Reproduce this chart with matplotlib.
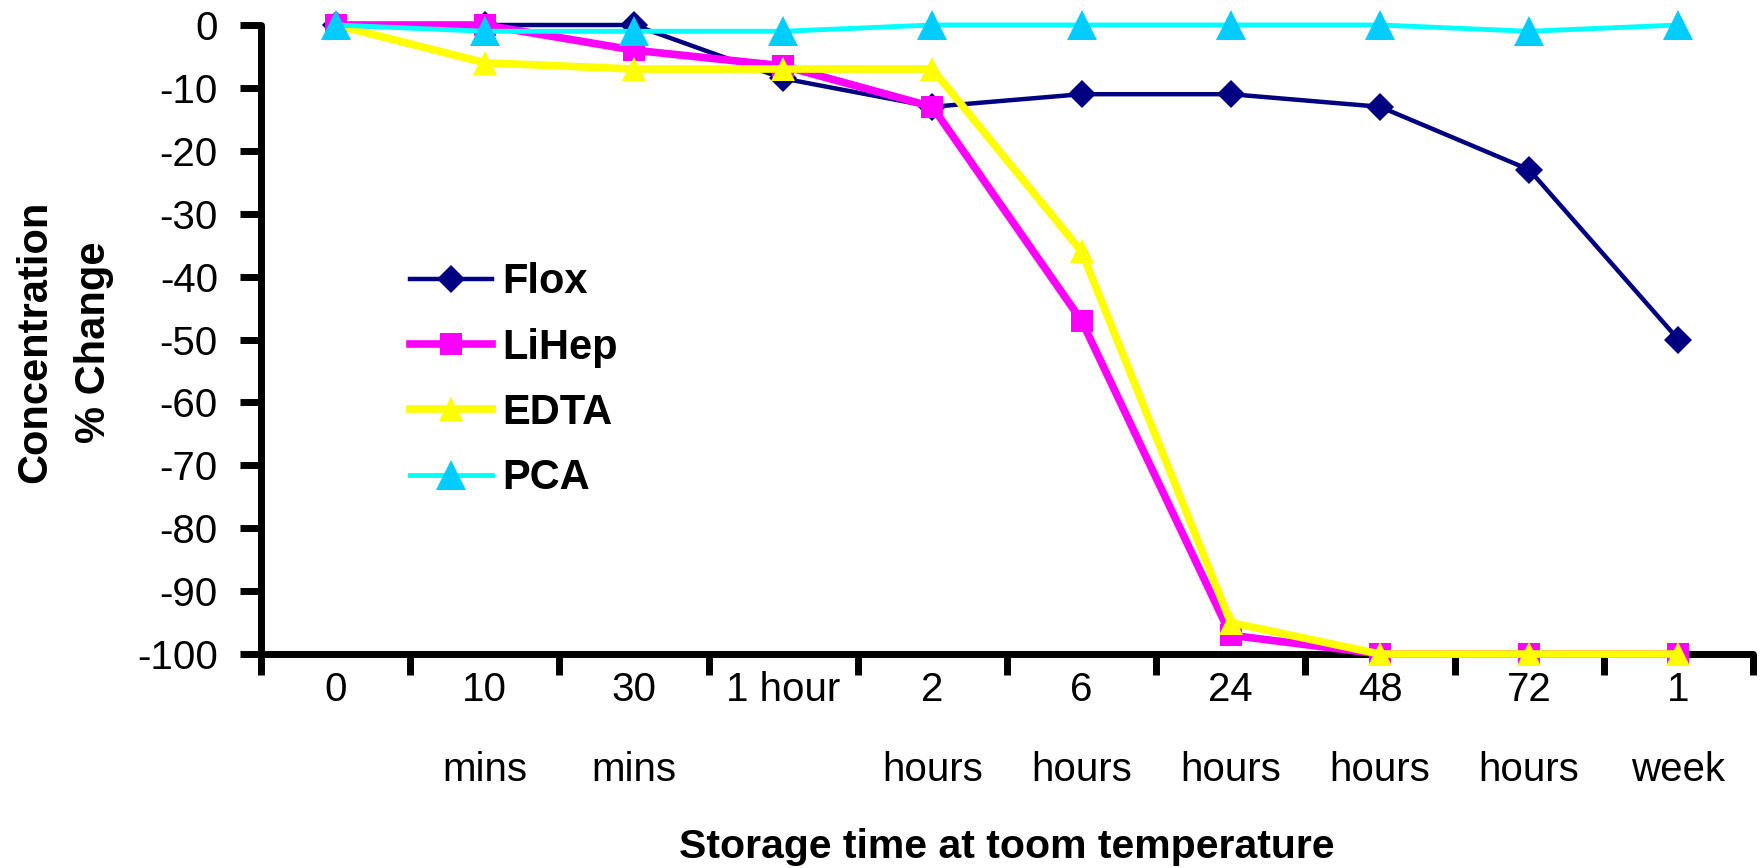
import matplotlib
matplotlib.use("Agg")
import matplotlib.pyplot as plt

plt.rcParams['font.family'] = ['Liberation Sans', 'DejaVu Sans']
plt.rcParams['axes.unicode_minus'] = False

times = ["0", "10\nmins", "30\nmins", "1 hour", "2\nhours", "6\nhours",
         "24\nhours", "48\nhours", "72\nhours", "1\nweek"]
flox = [0, 0, 0, -8.5, -13, -11, -11, -13, -23, -50]
lihep = [0, 0, -4, -6.5, -13, -47, -97, -100, -100, -100]
edta = [0, -6, -7, -7, -7, -36, -95, -100, -100, -100]
pca = [0, -1, -1, -1, 0, 0, 0, 0, -1, 0]

x = list(range(len(times)))

fig = plt.figure(figsize=(17.6, 8.68), dpi=100)
ax = fig.add_axes([0.1483, 0.2465, 0.8477, 0.7247])

ax.plot(x, flox, color="#000080", lw=3.2, marker="D", ms=14.5,
        mfc="#000080", mec="#000080", mew=0, label="Flox", clip_on=False, zorder=3)
ax.plot(x, lihep, color="#FF00FF", lw=5.5, marker="s", ms=15.5,
        mfc="#FF00FF", mec="#FF00FF", mew=0, label="LiHep", clip_on=False, zorder=3)
ax.plot(x, edta, color="#FFFF00", lw=5.5, marker="^", ms=17,
        mfc="#FFFF00", mec="#FFFF00", mew=0, label="EDTA", clip_on=False, zorder=3)
ax.plot(x, pca, color="#00FFFF", lw=3.5, marker="^", ms=21.5,
        mfc="#00CCFF", mec="#00CCFF", mew=0, label="PCA", clip_on=False, zorder=3)

ax.set_xlim(-0.5, len(times) - 0.5)
ax.set_ylim(-100, 0)

# category labels sit between the boundary ticks
ax.set_xticks(x)
ax.set_xticklabels(times)
ax.set_xticks([i - 0.5 for i in range(len(times) + 1)], minor=True)
ax.tick_params(axis="x", which="major", length=0, pad=12, labelsize=29)
ax.tick_params(axis="x", which="minor", length=15, width=5, direction="out")
for lbl in ax.get_xticklabels():
    lbl.set_linespacing(2.4)

ax.set_yticks(range(-100, 1, 10))
ax.tick_params(axis="y", length=15, width=5, direction="out", pad=16, labelsize=29)

for side in ["top", "right"]:
    ax.spines[side].set_visible(False)
for side in ["left", "bottom"]:
    ax.spines[side].set_linewidth(5)
    ax.spines[side].set_capstyle("round")

fig.text(0.0367, 0.606, "Concentration\n% Change", rotation=90,
         ha="center", va="center", multialignment="center",
         fontsize=30, fontweight="bold", linespacing=1.6)
fig.text(0.572, 0.024, "Storage time at toom temperature",
         ha="center", va="center", fontsize=29.5, fontweight="bold")

leg = ax.legend(loc="upper left", bbox_to_anchor=(0.233, 0.698),
                bbox_transform=fig.transFigure, frameon=False,
                prop={"size": 30, "weight": "bold"}, handlelength=1.97,
                handletextpad=0.25, labelspacing=0.61, borderpad=0,
                borderaxespad=0, markerscale=1.0)

fig.savefig("out.png", dpi=100)
